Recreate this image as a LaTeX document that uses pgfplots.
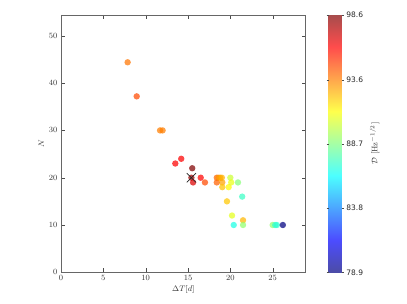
\documentclass[border=0pt]{standalone}
\usepackage{fontspec}
\setsansfont{DejaVu Sans}
\usepackage{pgfplots}
\pgfplotsset{compat=1.18}
\pgfplotsset{
  colormap={jetw}{rgb255(0pt)=(76,76,166); rgb255(1pt)=(76,76,255); rgb255(3pt)=(76,255,255); rgb255(5pt)=(255,255,76); rgb255(7pt)=(255,76,76); rgb255(8pt)=(166,76,76)},
  colormap={jetm}{rgb255(0pt)=(0,0,128); rgb255(1pt)=(0,0,255); rgb255(3pt)=(0,255,255); rgb255(5pt)=(255,255,0); rgb255(7pt)=(255,0,0); rgb255(8pt)=(128,0,0)}
}
\pgfplotstableread{
x y c
7.87 44.4 93.9
8.94 37.2 94.7
11.7 30 93.7
12.0 30 93.7
13.5 23 96.2
14.2 24 96.2
15.5 22 98.6
15.4 20 98.0
15.6 19 96.8
16.5 20 96.1
17.0 19 94.7
18.4 20 94.2
18.4 19 94.3
18.6 20 93.3
18.8 20 93.0
19.0 20 92.7
19.05 19 93.0
19.05 18 92.4
19.8 18 91.3
20.0 20 90.2
20.1 19 90.8
20.9 19 88.9
19.6 15 92.3
21.4 16 87.4
20.2 12 90.7
20.4 10 86.8
21.5 11 92.6
21.5 10 89.1
25.0 10 89.1
25.3 10 87.2
25.5 10 87.2
26.2 10 78.9
}\pts
\begin{document}
\begin{tikzpicture}[x=1pt,y=1pt]
\path[use as bounding box] (0,0) rectangle (407,303);
\begin{axis}[
  at={(61pt,30.7pt)}, anchor=south west,
  scale only axis, width=244.7pt, height=257.3pt,
  xmin=0, xmax=28.9, ymin=0, ymax=54.4,
  xtick={0,5,...,25}, ytick={0,10,...,50},
  tick align=inside, major tick length=4pt,
  xtick pos=both, ytick pos=both,
  axis line style={black!60, line width=0.8pt},
  tick style={black!70},
  tick label style={font=\footnotesize, text=black!80},
  label style={font=\footnotesize, text=black!80},
  xlabel={$\Delta T[d]$}, ylabel={$N$},
  xlabel style={yshift=2pt}, ylabel style={yshift=-2pt},
  colormap name=jetm,
  point meta min=78.9, point meta max=98.6,
  colorbar,
  colorbar style={
    colormap name=jetw,
    at={(parent axis.south east)}, anchor=south west, xshift=14.3pt,
    width=13.3pt, height=257.6pt, scale only axis,
    ytick={78.9,83.8,88.7,93.6,98.6},
    yticklabels={78.9,83.8,88.7,93.6,98.6},
    yticklabel style={font=\sffamily\fontsize{7.5}{8}\selectfont, text=black!85, xshift=-1pt},
    tick align=outside, major tick length=2pt,
    axis line style={draw=none},
    ylabel={$\mathcal{D}$ [Hz$^{-1/2}$]},
    ylabel style={font=\footnotesize, text=black!80, rotate=0},
  },
]
\addplot[scatter, only marks, scatter src=explicit, mark=*, mark size=3.2pt,
  scatter/use mapped color={draw opacity=0, fill=mapped color},
  fill opacity=0.72] table[x=x, y=y, meta=c]{\pts};
\addplot[only marks, mark=x, mark size=6.5pt, black!85, line width=0.7pt] coordinates {(15.4,20)};
\end{axis}
\end{tikzpicture}
\end{document}
